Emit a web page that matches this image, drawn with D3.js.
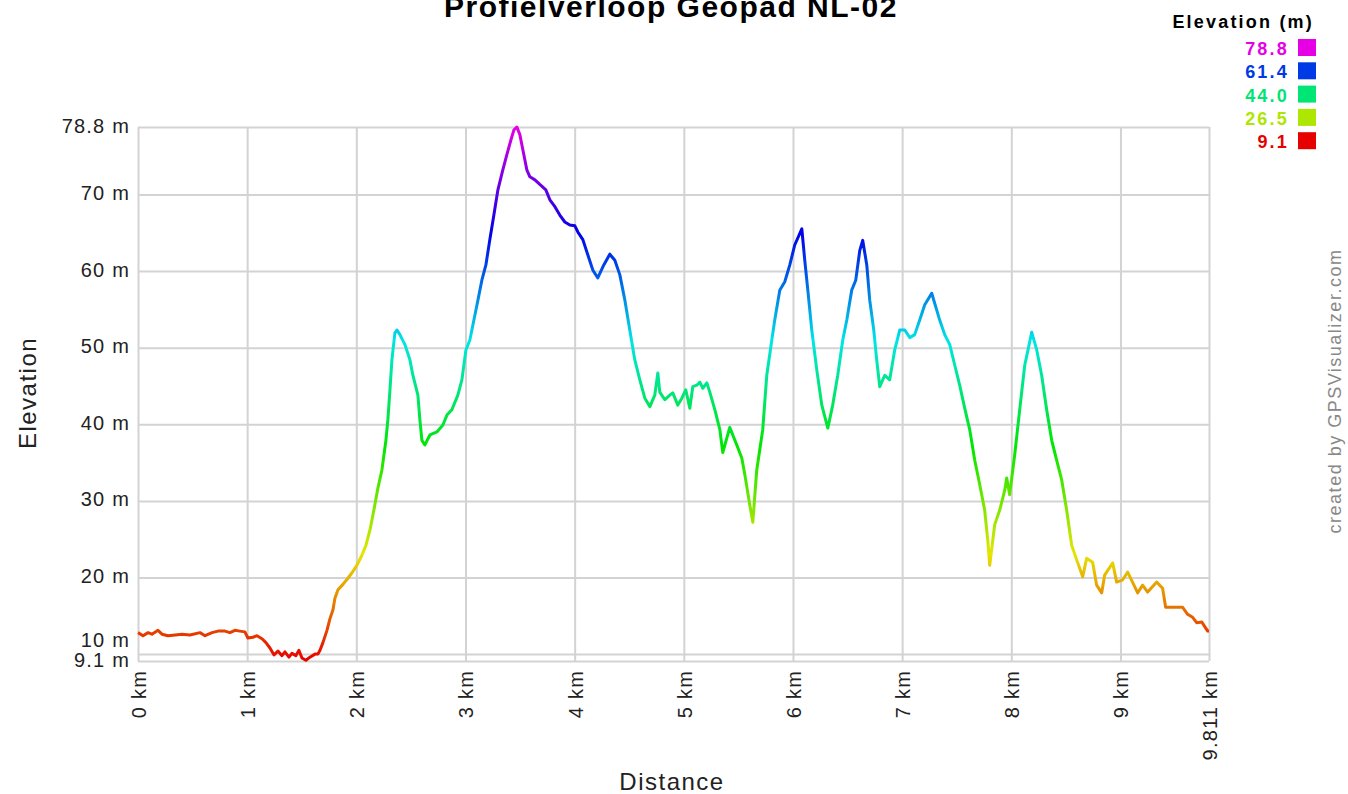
<!DOCTYPE html>
<html>
<head>
<meta charset="utf-8">
<script src="https://cdn.jsdelivr.net/npm/d3@7"></script>
<style>
body{margin:0;background:#fff;}
text{font-family:"Liberation Sans",Arial,sans-serif;}
</style>
</head>
<body>
<svg width="1348" height="794"></svg>
<script>
// profile: distance (km) and elevation (m)
const distKm=[0,0.046,0.092,0.128,0.183,0.220,0.275,0.339,0.403,0.476,
0.568,0.614,0.678,0.733,0.797,0.842,0.888,0.934,0.979,1.007,
1.053,1.090,1.136,1.172,1.209,1.245,1.282,1.319,1.346,1.383,
1.410,1.447,1.474,1.502,1.538,1.575,1.621,1.648,1.667,1.694,
1.731,1.758,1.786,1.804,1.832,1.877,1.923,1.969,2.005,2.051,
2.088,2.125,2.161,2.198,2.234,2.271,2.289,2.308,2.326,2.353,
2.372,2.399,2.445,2.491,2.518,2.564,2.582,2.601,2.628,2.674,
2.738,2.793,2.830,2.875,2.930,2.967,3.004,3.040,3.077,3.114,
3.150,3.187,3.223,3.260,3.297,3.342,3.379,3.416,3.443,3.471,
3.498,3.526,3.562,3.590,3.636,3.681,3.736,3.773,3.819,3.864,
3.910,3.956,4.002,4.029,4.075,4.121,4.167,4.212,4.267,4.322,
4.368,4.414,4.460,4.505,4.551,4.597,4.643,4.689,4.734,4.762,
4.780,4.826,4.872,4.899,4.945,4.982,5.018,5.055,5.082,5.119,
5.147,5.174,5.211,5.238,5.284,5.330,5.357,5.421,5.485,5.531,
5.559,5.604,5.632,5.668,5.723,5.760,5.806,5.833,5.879,5.925,
5.971,6.016,6.081,6.108,6.136,6.172,6.218,6.264,6.319,6.364,
6.410,6.456,6.493,6.538,6.575,6.612,6.639,6.676,6.703,6.740,
6.767,6.795,6.841,6.886,6.932,6.978,7.024,7.070,7.115,7.161,
7.207,7.271,7.344,7.390,7.436,7.482,7.527,7.573,7.619,7.665,
7.711,7.756,7.784,7.802,7.848,7.894,7.940,7.958,7.985,8.031,
8.077,8.123,8.187,8.233,8.278,8.324,8.370,8.416,8.462,8.507,
8.553,8.599,8.654,8.690,8.745,8.782,8.828,8.855,8.929,8.965,
9.020,9.066,9.158,9.203,9.249,9.332,9.386,9.414,9.570,9.615,
9.661,9.698,9.744,9.799,9.811];
const elevM=[12.8,12.4,12.8,12.6,13.1,12.6,12.4,12.5,12.6,12.5,
12.8,12.4,12.8,13.0,13.0,12.8,13.1,13.0,12.9,12.1,
12.2,12.4,12.0,11.5,10.8,9.9,10.4,9.8,10.3,9.6,
10.1,9.8,10.5,9.5,9.2,9.6,10.0,10.0,10.5,11.5,
13.1,14.6,15.8,17.3,18.4,19.1,19.9,20.8,21.6,22.9,
24.2,26.2,28.8,31.7,34.0,37.9,40.6,44.5,48.4,51.9,
52.3,51.7,50.4,48.4,46.4,43.8,40.6,37.9,37.3,38.6,
39.0,39.9,41.2,41.9,43.8,45.8,49.7,51.0,53.6,56.2,
58.8,60.8,64.1,67.3,70.6,73.2,75.2,77.1,78.4,78.8,
77.8,75.8,73.2,72.3,71.9,71.3,70.6,69.3,68.4,67.3,
66.4,66.0,65.9,65.1,64.1,62.1,60.1,59.1,60.8,62.2,
61.4,59.5,56.2,52.3,48.4,45.8,43.4,42.3,43.8,46.7,
44.2,43.2,43.8,44.1,42.5,43.4,44.5,42.1,44.9,45.1,
45.5,44.7,45.4,44.2,41.9,39.3,36.3,39.6,37.3,35.6,
33.4,29.5,27.2,34.0,39.3,46.4,51.0,53.6,57.5,58.6,
60.8,63.4,65.5,61.4,57.5,52.3,47.1,42.5,39.5,42.5,
46.4,51.0,53.6,57.5,58.8,62.7,64.0,60.8,56.2,52.3,
48.4,44.9,46.4,45.8,49.7,52.3,52.3,51.3,51.7,53.6,
55.6,57.1,53.6,51.7,50.4,47.7,45.1,42.1,39.3,35.3,
32.1,28.8,24.9,21.6,26.9,28.8,31.4,33.0,30.8,36.0,
41.9,47.7,52.0,49.7,46.4,41.9,37.9,35.3,32.7,28.8,
24.2,22.3,20.1,22.5,22.0,19.0,18.0,20.3,21.9,19.4,
19.7,20.7,18.0,19.0,18.1,19.4,18.6,16.1,16.1,15.2,
14.8,14.1,14.2,13.0,13.0];

const yTicks=[9.1,10,20,30,40,50,60,70,78.8];
const xTicks=[0,1,2,3,4,5,6,7,8,9,9.811];
const legendValues=[78.8,61.4,44.0,26.5,9.1];
const minElev=9.1, maxElev=78.8, totalKm=9.811;

const svg=d3.select("svg");
const margin={left:138,top:127,right:139,bottom:133};
const width=1348-margin.left-margin.right, height=794-margin.top-margin.bottom;
const g=svg.append("g").attr("transform","translate("+margin.left+","+margin.top+")");

const xScale=d3.scaleLinear().domain([0,totalKm]).range([0,width]);
const yScale=d3.scaleLinear().domain([minElev,maxElev]).range([height,0]);
// rainbow from red (low) to magenta (high)
const colour=v=>d3.hsl((v-minElev)/(maxElev-minElev)*300,1,0.45).toString();

// grid
const yAxis=g.append("g").call(d3.axisLeft(yScale).tickValues(yTicks).tickSize(-width).tickPadding(8).tickFormat(d=>d+" m"));
const xAxis=g.append("g").attr("transform","translate(0,"+height+")")
   .call(d3.axisBottom(xScale).tickValues(xTicks).tickSize(-height).tickFormat(d=>d===totalKm?"9.811 km":d+" km"));
[xAxis,yAxis].forEach(a=>{
  a.select(".domain").remove();
  a.selectAll(".tick line").attr("stroke","#d3d3d3").attr("stroke-width",2);
  a.selectAll(".tick text").attr("fill","#222").style("font-size","20px").style("letter-spacing","1.2px");
});
// 10 m sits right above 9.1 m, nudge it up
yAxis.selectAll(".tick text").attr("dy",d=>d===10?"-0.38em":"0.25em");
xAxis.selectAll(".tick text")
   .attr("transform","rotate(-90)")
   .attr("text-anchor","end")
   .attr("x",-9).attr("y",0).attr("dy","0.37em");

// elevation-coloured line
const grad=svg.append("defs").append("linearGradient")
   .attr("id","elevGrad").attr("gradientUnits","userSpaceOnUse")
   .attr("x1",0).attr("x2",0).attr("y1",yScale(minElev)).attr("y2",yScale(maxElev));
d3.range(0,1.0001,0.05).forEach(t=>{
  grad.append("stop").attr("offset",t).attr("stop-color",colour(minElev+t*(maxElev-minElev)));
});
const line=d3.line().x((d,i)=>xScale(distKm[i])).y(d=>yScale(d));
g.append("path")
   .datum(elevM)
   .attr("d",line)
   .attr("fill","none")
   .attr("stroke","url(#elevGrad)")
   .attr("stroke-width",3)
   .attr("stroke-linejoin","round");

//Title
svg.append("text")
   .attr("x",671).attr("y",17)
   .attr("text-anchor","middle")
   .style("font-size","30px").style("font-weight","bold").style("letter-spacing","1.5px")
   .text("Profielverloop Geopad NL-02");

//axis titles
svg.append("text")
   .attr("transform","translate(36,393) rotate(-90)")
   .attr("text-anchor","middle")
   .style("font-size","24px").style("letter-spacing","1.5px").attr("fill","#222")
   .text("Elevation");
svg.append("text")
   .attr("x",672).attr("y",790)
   .attr("text-anchor","middle")
   .style("font-size","24px").style("letter-spacing","1.5px").attr("fill","#222")
   .text("Distance");

//credit
svg.append("text")
   .attr("transform","translate(1341,391) rotate(-90)")
   .attr("text-anchor","middle")
   .attr("fill","#888")
   .style("font-size","18px").style("letter-spacing","1.5px")
   .text("created by GPSVisualizer.com");

//legend
const legend=svg.append("g");
legend.append("text")
   .attr("x",1314).attr("y",28)
   .attr("text-anchor","end")
   .style("font-size","18px").style("font-weight","bold").style("letter-spacing","2.2px")
   .text("Elevation (m)");
const item=legend.selectAll(".item").data(legendValues).enter().append("g")
   .attr("transform",(d,i)=>"translate(0,"+(55+i*23.3)+")");
item.append("text")
   .attr("x",1289).attr("y",0)
   .attr("text-anchor","end")
   .attr("fill",d=>colour(d))
   .style("font-size","18px").style("font-weight","bold").style("letter-spacing","2.2px")
   .text(d=>d.toFixed(1));
item.append("rect")
   .attr("x",1298).attr("y",-16)
   .attr("width",18).attr("height",17)
   .attr("fill",d=>colour(d));
</script>
</body>
</html>
